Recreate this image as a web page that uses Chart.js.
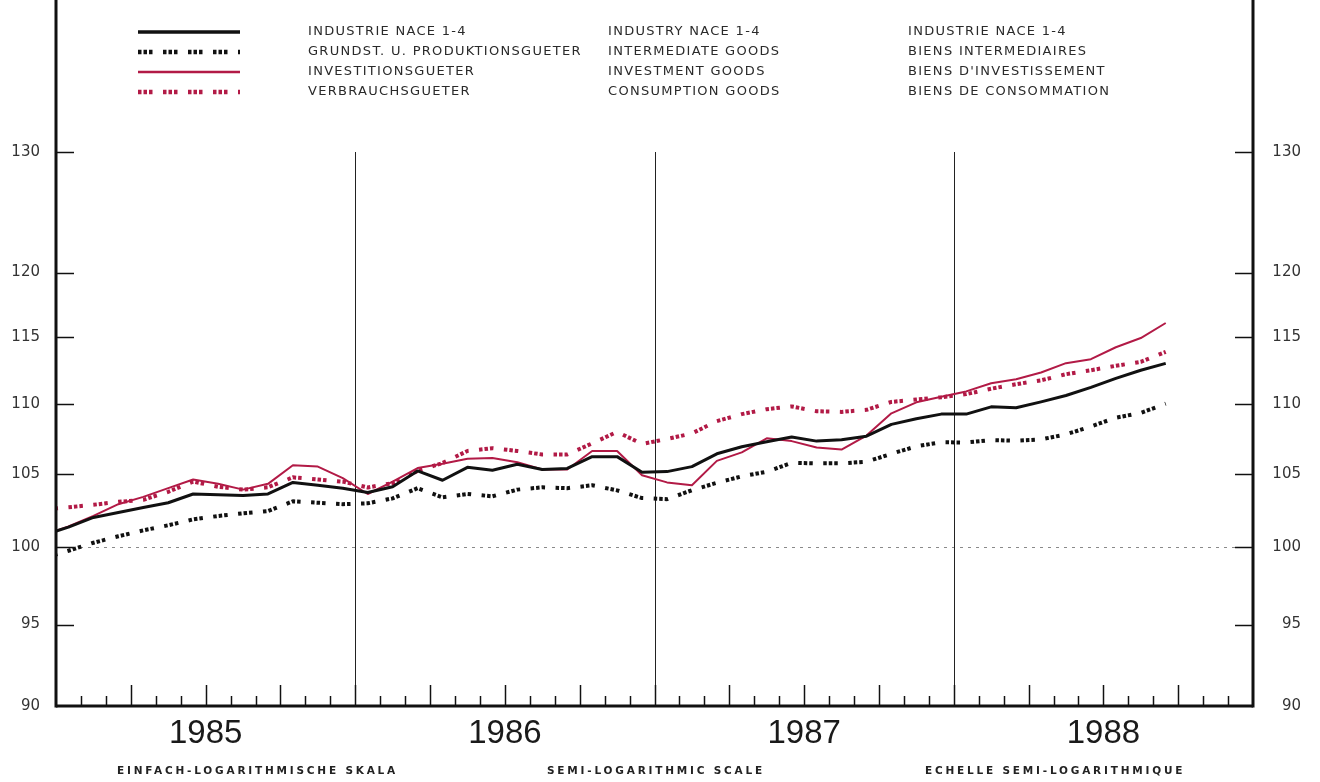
<!DOCTYPE html>
<html>
<head>
<meta charset="utf-8">
<title>Industrieproduktion 1985-1988</title>
<script src="https://cdn.jsdelivr.net/npm/chart.js@4.4.1/dist/chart.umd.min.js"></script>
<style>
  html, body { margin: 0; padding: 0; background: #fff; }
  #wrap { position: relative; width: 1320px; height: 782px; }
</style>
</head>
<body>
<div id="wrap"><canvas id="prodChart" width="1320" height="782"></canvas></div>
<script>
// monthly index values, Dec 1984 .. Sep 1988
// Jan 1985 = month 0, so the first value sits left of the axis and gets clipped
const firstMonth = -1;
const years = ['1985', '1986', '1987', '1988'];
const yearCentres = [5.5, 17.5, 29.5, 41.5];
const yearEdges = [11.5, 23.5, 35.5];
const yTicks = [90, 95, 100, 105, 110, 115, 120, 130];
const baseLine = 100;

const industrie = [
  100.8, 101.35, 102.0, 102.33, 102.67, 103.0, 103.6, 103.55, 103.5, 103.6, 104.4, 104.2, 104.0,
  103.7, 104.1, 105.2, 104.55, 105.45, 105.25, 105.67, 105.3, 105.37, 106.2, 106.2, 105.1,
  105.15, 105.5, 106.4, 106.9, 107.25, 107.6, 107.3, 107.4, 107.65, 108.5, 108.9, 109.24,
  109.24, 109.77, 109.7, 110.13, 110.6, 111.2, 111.86, 112.47, 112.98
];
const vorleistung = [
  99.27, 99.77, 100.3, 100.73, 101.13, 101.47, 101.87, 102.1, 102.28, 102.43, 103.1, 103.0, 102.9,
  102.96, 103.3, 104.0, 103.37, 103.6, 103.44, 103.9, 104.06, 104.0, 104.2, 103.85, 103.32,
  103.24, 103.86, 104.37, 104.82, 105.14, 105.76, 105.73, 105.73, 105.84, 106.4, 106.93, 107.22,
  107.2, 107.37, 107.33, 107.42, 107.78, 108.35, 108.98, 109.33, 110.0
];
const investition = [
  100.8, 101.4, 102.1, 102.9, 103.4, 104.0, 104.6, 104.3, 103.9, 104.3, 105.6, 105.5, 104.7,
  103.6, 104.45, 105.4, 105.7, 106.05, 106.1, 105.8, 105.3, 105.3, 106.6, 106.6, 104.9,
  104.4, 104.2, 105.9, 106.5, 107.5, 107.3, 106.85, 106.7, 107.7, 109.3, 110.1, 110.5,
  110.9, 111.5, 111.8, 112.3, 113.0, 113.3, 114.2, 114.9, 116.05
];
const verbrauch = [
  102.55, 102.69, 102.86, 103.06, 103.2, 103.75, 104.45, 104.1, 103.9, 104.06, 104.75, 104.6, 104.45,
  104.05, 104.35, 105.2, 105.75, 106.6, 106.8, 106.6, 106.35, 106.35, 107.14, 107.96, 107.1,
  107.45, 107.85, 108.73, 109.24, 109.6, 109.8, 109.45, 109.4, 109.55, 110.13, 110.3, 110.47,
  110.7, 111.1, 111.43, 111.72, 112.17, 112.47, 112.8, 113.1, 113.85
];

const labelsDe = ['INDUSTRIE NACE 1-4', 'GRUNDST. U. PRODUKTIONSGUETER', 'INVESTITIONSGUETER', 'VERBRAUCHSGUETER'];
const labelsEn = ['INDUSTRY NACE 1-4', 'INTERMEDIATE GOODS', 'INVESTMENT GOODS', 'CONSUMPTION GOODS'];
const labelsFr = ['INDUSTRIE NACE 1-4', 'BIENS INTERMEDIAIRES', "BIENS D'INVESTISSEMENT", 'BIENS DE CONSOMMATION'];
const scaleNotes = ['EINFACH-LOGARITHMISCHE SKALA', 'SEMI-LOGARITHMIC SCALE', 'ECHELLE SEMI-LOGARITHMIQUE'];

const crimson = 'rgb(178, 26, 70)';
const groupDash = [3.5, 2, 3.5, 2, 3.5, 10.5];

function toPoints(values) {
  return values.map((v, i) => ({ x: firstMonth + i, y: v }));
}

function line(ctx, x1, y1, x2, y2) {
  ctx.beginPath();
  ctx.moveTo(x1, y1);
  ctx.lineTo(x2, y2);
  ctx.stroke();
}

const framePlugin = {
  id: 'frame',
  beforeDatasetsDraw(chart) {
    const { ctx, chartArea: a, scales } = chart;
    const x = scales.x, y = scales.y;
    ctx.save();

    // dotted 100 line
    ctx.strokeStyle = '#8a8a8a';
    ctx.lineWidth = 1;
    ctx.setLineDash([3, 5]);
    const y100 = Math.round(y.getPixelForValue(baseLine)) + 0.5;
    line(ctx, a.left, y100, a.right, y100);

    // year separators
    ctx.setLineDash([]);
    ctx.strokeStyle = '#222';
    const yTop = y.getPixelForValue(yTicks[yTicks.length - 1]);
    yearEdges.forEach((m) => {
      const px = Math.round(x.getPixelForValue(m)) + 0.5;
      line(ctx, px, yTop, px, a.bottom);
    });
    ctx.restore();
  },
  afterDatasetsDraw(chart) {
    const { ctx, chartArea: a, scales } = chart;
    const x = scales.x, y = scales.y;
    ctx.save();
    ctx.strokeStyle = '#111';

    // ticks pointing inwards
    ctx.lineWidth = 1.5;
    yTicks.slice(1).forEach((v) => {
      const py = Math.round(y.getPixelForValue(v)) + 0.5;
      line(ctx, a.left, py, a.left + 18, py);
      line(ctx, a.right - 18, py, a.right, py);
    });
    for (let m = 0.5; m < 47; m += 1) {
      const px = Math.round(x.getPixelForValue(m)) + 0.5;
      const tall = (m + 0.5) % 3 === 0;
      line(ctx, px, a.bottom, px, a.bottom - (tall ? 21 : 10));
    }

    // frame
    ctx.lineWidth = 3;
    line(ctx, a.left, 0, a.left, a.bottom + 1.5);
    line(ctx, a.right, 0, a.right, a.bottom + 1.5);
    line(ctx, a.left, a.bottom, a.right, a.bottom);
    ctx.restore();
  },
  afterDraw(chart) {
    const { ctx } = chart;
    ctx.save();

    // legend, three languages
    chart.data.datasets.forEach((ds, i) => {
      const rowY = 32 + i * 20;
      ctx.strokeStyle = ds.borderColor;
      ctx.lineWidth = ds.borderWidth + 0.5;
      ctx.setLineDash(ds.borderDash || []);
      line(ctx, 138, rowY, 240, rowY);
      ctx.setLineDash([]);

      ctx.fillStyle = '#2a2a2a';
      ctx.font = '13px "DejaVu Sans"';
      ctx.letterSpacing = '1.3px';
      ctx.textBaseline = 'middle';
      ctx.fillText(labelsDe[i], 308, rowY);
      ctx.fillText(labelsEn[i], 608, rowY);
      ctx.fillText(labelsFr[i], 908, rowY);
    });

    // scale note under the years
    ctx.font = 'bold 10.5px "DejaVu Sans"';
    ctx.letterSpacing = '2.8px';
    ctx.fillStyle = '#222';
    [117, 547, 925].forEach((px, i) => ctx.fillText(scaleNotes[i], px, 771));
    ctx.restore();
  }
};

const ctx = document.getElementById('prodChart').getContext('2d');

const yAxis = (position) => ({
  type: 'logarithmic',
  position: position,
  min: 90,
  max: 130,
  grid: { display: false, drawTicks: false },
  border: { display: false },
  afterBuildTicks: (scale) => { scale.ticks = yTicks.map((v) => ({ value: v })); },
  afterFit: (scale) => { scale.width = position === 'left' ? 56 : 48; },
  ticks: {
    padding: 16,
    crossAlign: position === 'left' ? 'near' : 'far',
    color: '#333',
    font: { family: 'DejaVu Sans', size: 15 },
    autoSkip: false,
    callback: (v) => String(v)
  }
});

new Chart(ctx, {
  type: 'line',
  data: {
    datasets: [
      { label: labelsDe[0], data: toPoints(industrie), borderColor: '#111', borderWidth: 3 },
      { label: labelsDe[1], data: toPoints(vorleistung), borderColor: '#111', borderWidth: 4, borderDash: groupDash },
      { label: labelsDe[2], data: toPoints(investition), borderColor: crimson, borderWidth: 2 },
      { label: labelsDe[3], data: toPoints(verbrauch), borderColor: crimson, borderWidth: 4, borderDash: groupDash }
    ]
  },
  options: {
    responsive: false,
    animation: false,
    layout: { padding: { top: 152, left: 0, right: 19, bottom: 0 } },
    elements: {
      point: { radius: 0 },
      line: { tension: 0, borderCapStyle: 'butt', borderJoinStyle: 'round' }
    },
    plugins: {
      legend: { display: false },
      tooltip: { enabled: false }
    },
    scales: {
      x: {
        type: 'linear',
        min: -0.5,
        max: 47.5,
        grid: { display: false, drawTicks: false },
        border: { display: false },
        afterBuildTicks: (scale) => { scale.ticks = yearCentres.map((v) => ({ value: v })); },
        afterFit: (scale) => { scale.height = 76; },
        ticks: {
          padding: 8,
          color: '#1a1a1a',
          font: { family: 'Liberation Sans', size: 33 },
          autoSkip: false,
          maxRotation: 0,
          callback: (v, i) => years[i]
        }
      },
      y: yAxis('left'),
      y2: yAxis('right')
    }
  },
  plugins: [framePlugin]
});
</script>
</body>
</html>
